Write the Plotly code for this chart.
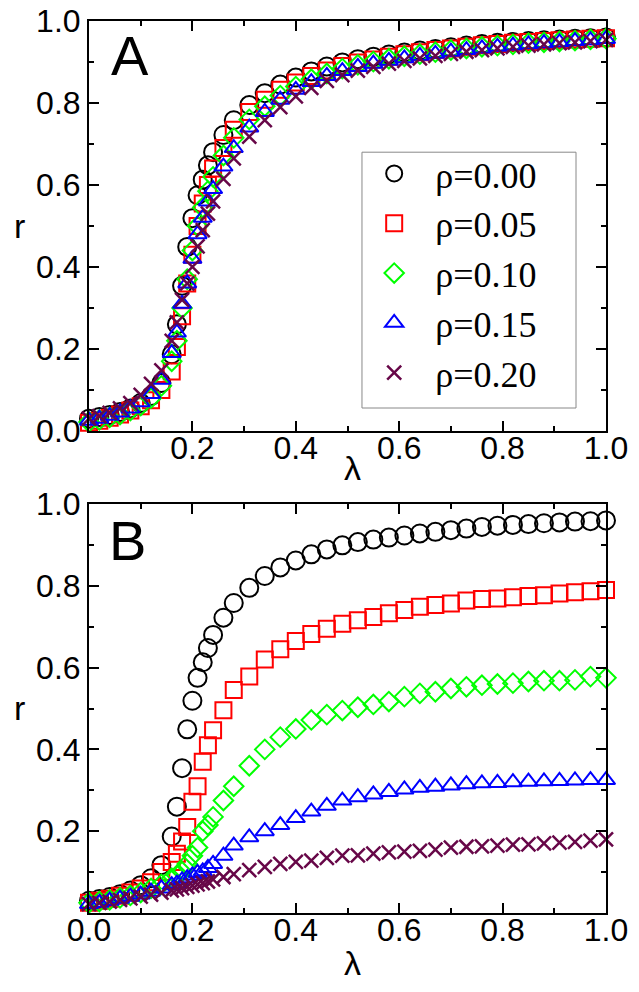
import plotly.graph_objects as go

# ---------------- data ----------------
lam = [0.00, 0.02, 0.04, 0.06, 0.08, 0.10, 0.12, 0.14, 0.16, 0.17, 0.18, 0.19, 0.20,
       0.21, 0.22, 0.23, 0.24, 0.26, 0.28, 0.31, 0.34, 0.37, 0.40, 0.43, 0.46, 0.49,
       0.52, 0.55, 0.58, 0.61, 0.64, 0.67, 0.70, 0.73, 0.76, 0.79, 0.82, 0.85, 0.88,
       0.91, 0.94, 0.97, 1.00]

series_names = ["ρ=0.00", "ρ=0.05", "ρ=0.10", "ρ=0.15", "ρ=0.20"]

# panel A
rA_000 = [0.030, 0.034, 0.039, 0.046, 0.055, 0.068, 0.085, 0.117, 0.187, 0.260, 0.354, 0.449, 0.519,
          0.575, 0.613, 0.648, 0.680, 0.722, 0.758, 0.795, 0.824, 0.845, 0.862, 0.877, 0.889, 0.899,
          0.907, 0.913, 0.918, 0.923, 0.928, 0.932, 0.936, 0.940, 0.944, 0.947, 0.949, 0.951, 0.953,
          0.955, 0.957, 0.958, 0.960]
rA_005 = [0.020, 0.025, 0.032, 0.040, 0.050, 0.060, 0.075, 0.100, 0.145, 0.205, 0.280, 0.360, 0.430,
          0.500, 0.555, 0.600, 0.640, 0.690, 0.735, 0.778, 0.808, 0.832, 0.850, 0.866, 0.879, 0.890,
          0.899, 0.906, 0.913, 0.919, 0.924, 0.929, 0.933, 0.937, 0.941, 0.944, 0.947, 0.949, 0.951,
          0.953, 0.955, 0.957, 0.958]
rA_010 = [0.022, 0.027, 0.033, 0.040, 0.050, 0.062, 0.080, 0.110, 0.170, 0.220, 0.300, 0.370, 0.440,
          0.500, 0.545, 0.585, 0.620, 0.672, 0.715, 0.760, 0.792, 0.818, 0.840, 0.858, 0.872, 0.884,
          0.893, 0.901, 0.908, 0.914, 0.919, 0.924, 0.929, 0.933, 0.937, 0.940, 0.943, 0.946, 0.948,
          0.950, 0.952, 0.955, 0.957]
rA_015 = [0.025, 0.030, 0.037, 0.045, 0.055, 0.070, 0.090, 0.125, 0.190, 0.240, 0.310, 0.360, 0.420,
          0.480, 0.520, 0.560, 0.590, 0.645, 0.690, 0.740, 0.778, 0.808, 0.832, 0.851, 0.866, 0.878,
          0.888, 0.896, 0.903, 0.909, 0.915, 0.920, 0.925, 0.929, 0.933, 0.937, 0.940, 0.943, 0.946,
          0.948, 0.951, 0.953, 0.956]
rA_020 = [0.030, 0.036, 0.044, 0.055, 0.068, 0.088, 0.115, 0.148, 0.220, 0.265, 0.320, 0.360, 0.400,
          0.450, 0.490, 0.530, 0.560, 0.615, 0.665, 0.718, 0.758, 0.790, 0.816, 0.837, 0.854, 0.868,
          0.879, 0.888, 0.896, 0.903, 0.909, 0.915, 0.920, 0.925, 0.929, 0.933, 0.937, 0.940, 0.943,
          0.946, 0.948, 0.951, 0.954]

# panel B
rB_000 = rA_000
rB_005 = [0.025, 0.030, 0.035, 0.042, 0.050, 0.060, 0.075, 0.100, 0.125, 0.145, 0.175, 0.210, 0.272,
          0.310, 0.370, 0.410, 0.447, 0.496, 0.545, 0.578, 0.620, 0.645, 0.665, 0.682, 0.695, 0.707,
          0.716, 0.724, 0.733, 0.741, 0.749, 0.753, 0.757, 0.764, 0.768, 0.769, 0.772, 0.775, 0.777,
          0.781, 0.784, 0.787, 0.790]
rB_010 = [0.025, 0.028, 0.032, 0.037, 0.043, 0.050, 0.060, 0.070, 0.085, 0.092, 0.101, 0.120, 0.140,
          0.160, 0.200, 0.215, 0.235, 0.275, 0.310, 0.360, 0.400, 0.430, 0.450, 0.472, 0.485, 0.495,
          0.503, 0.510, 0.517, 0.529, 0.537, 0.541, 0.549, 0.553, 0.557, 0.560, 0.562, 0.566, 0.568,
          0.568, 0.570, 0.578, 0.575]
rB_015 = [0.022, 0.025, 0.030, 0.035, 0.040, 0.045, 0.052, 0.060, 0.068, 0.072, 0.080, 0.085, 0.092,
          0.098, 0.102, 0.110, 0.120, 0.140, 0.165, 0.185, 0.200, 0.215, 0.232, 0.248, 0.262, 0.275,
          0.283, 0.290, 0.296, 0.302, 0.306, 0.309, 0.312, 0.315, 0.317, 0.318, 0.320, 0.321, 0.322,
          0.323, 0.324, 0.325, 0.325]
rB_020 = [0.022, 0.025, 0.028, 0.032, 0.036, 0.040, 0.045, 0.050, 0.055, 0.058, 0.061, 0.064, 0.067,
          0.070, 0.073, 0.077, 0.082, 0.088, 0.095, 0.105, 0.113, 0.120, 0.125, 0.128, 0.135, 0.140,
          0.141, 0.145, 0.148, 0.150, 0.152, 0.155, 0.160, 0.162, 0.163, 0.165, 0.167, 0.168, 0.170,
          0.172, 0.174, 0.177, 0.180]

x_ticks_A = [0.2, 0.4, 0.6, 0.8, 1.0]
x_labels_A = ["0.2", "0.4", "0.6", "0.8", "1.0"]
y_ticks_A = [0.0, 0.2, 0.4, 0.6, 0.8, 1.0]
y_labels_A = ["0.0", "0.2", "0.4", "0.6", "0.8", "1.0"]
x_ticks_B = [0.0, 0.2, 0.4, 0.6, 0.8, 1.0]
x_labels_B = ["0.0", "0.2", "0.4", "0.6", "0.8", "1.0"]
y_ticks_B = [0.2, 0.4, 0.6, 0.8, 1.0]
y_labels_B = ["0.2", "0.4", "0.6", "0.8", "1.0"]
minor_ticks = [0.1, 0.3, 0.5, 0.7, 0.9]

# ---------------- styles ----------------
colors = ["#000000", "#ff0000", "#00ff00", "#0000ff", "#670748"]
symbols = ["circle-open", "square-open", "diamond-open", "triangle-up-open", "x-thin-open"]
sizes = [18, 16, 15, 16, 14]
lwidths = [2, 2, 2, 2, 2.5]

fig = go.Figure()
A_sets = [rA_000, rA_005, rA_010, rA_015, rA_020]
B_sets = [rB_000, rB_005, rB_010, rB_015, rB_020]
for i in range(5):
    fig.add_trace(go.Scatter(
        x=lam, y=A_sets[i], mode="markers", name=series_names[i],
        marker=dict(symbol=symbols[i], size=sizes[i], color=colors[i],
                    line=dict(color=colors[i], width=lwidths[i])),
        cliponaxis=False, xaxis="x", yaxis="y", showlegend=True))
for i in range(5):
    fig.add_trace(go.Scatter(
        x=lam, y=B_sets[i], mode="markers", name=series_names[i],
        marker=dict(symbol=symbols[i], size=sizes[i], color=colors[i],
                    line=dict(color=colors[i], width=lwidths[i])),
        cliponaxis=False, xaxis="x2", yaxis="y2", showlegend=False))

sans = "Liberation Sans, Arial, sans-serif"
tick_font = dict(family=sans, size=32, color="black")
title_font = dict(family=sans, size=34, color="black")

def ax(tickvals, ticktext, domain, anchor, is_x):
    d = dict(domain=domain, anchor=anchor, range=[0, 1], showgrid=False, zeroline=False,
             automargin=False, ticklabeloverflow="allow",
             showline=True, linecolor="black", linewidth=2, mirror="allticks",
             ticks="inside", ticklen=10, tickwidth=2, tickcolor="black",
             tickmode="array", tickvals=tickvals, ticktext=ticktext, tickfont=tick_font,
             minor=dict(ticks="inside", ticklen=5, tickwidth=2, tickcolor="black",
                        tickmode="array", tickvals=minor_ticks, showgrid=False))
    if is_x:
        d["ticklabelstandoff"] = -12
    return d

fig.update_layout(
    width=639, height=992,
    margin=dict(l=89, r=33, t=21, b=79, autoexpand=False),
    paper_bgcolor="white", plot_bgcolor="white",
    xaxis=ax(x_ticks_A, x_labels_A, [0, 1], "y", True),
    yaxis=ax(y_ticks_A, y_labels_A, [0.5404, 1.0], "x", False),
    xaxis2=ax(x_ticks_B, x_labels_B, [0, 1], "y2", True),
    yaxis2=ax(y_ticks_B, y_labels_B, [0.0, 0.4585], "x2", False),
    legend=dict(x=0.511, y=0.8626, xanchor="left", yanchor="top",
                bgcolor="rgba(0,0,0,0)", borderwidth=0, itemwidth=72,
                font=dict(family="Liberation Serif, Times New Roman, serif", size=36, color="black"),
                tracegroupgap=0),
    showlegend=True,
)

fig.add_shape(type="rect", xref="x", yref="y", x0=0.528, x1=0.942, y0=0.056, y1=0.680,
              line=dict(color="#888888", width=1), fillcolor="rgba(0,0,0,0)", layer="below")

panel_font = dict(family=sans, size=56, color="black")
fig.add_annotation(text="A", xref="x domain", yref="y domain", x=0.079, y=0.917,
                   showarrow=False, font=panel_font, xanchor="center", yanchor="middle")
fig.add_annotation(text="B", xref="x2 domain", yref="y2 domain", x=0.075, y=0.91,
                   showarrow=False, font=panel_font, xanchor="center", yanchor="middle")

# axis titles
for ytitle in [0.4989, -0.0561]:
    fig.add_annotation(text="λ", xref="paper", yref="paper", x=0.509, y=ytitle,
                       showarrow=False, font=title_font, xanchor="center", yanchor="middle")
for ytitle in [0.770, 0.2298]:
    fig.add_annotation(text="r", xref="paper", yref="paper", x=-0.1335, y=ytitle,
                       showarrow=False, font=title_font, xanchor="center", yanchor="middle")

# remove the default 8px page margin so the figure fills the window exactly
fig.write_html("out.html", config={"displayModeBar": False},
               post_script="document.body.style.margin='0px';")
